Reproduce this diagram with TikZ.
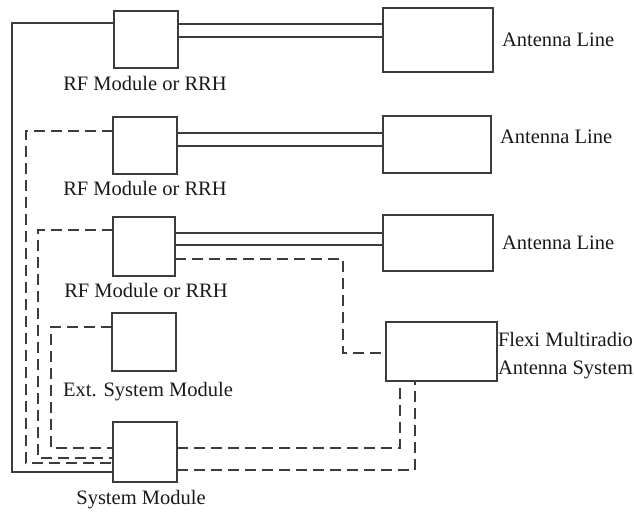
\documentclass[tikz,border=0pt]{standalone}
\usepackage{fontspec}
\setmainfont{Liberation Serif}
\begin{document}
\begin{tikzpicture}[x=1pt,y=-1pt,
  every node/.style={inner sep=0pt, outer sep=0pt},
  unit/.style={draw=linegray, line width=1.4pt, fill=white},
  lbl/.style={text=black!90, font=\fontsize{20.5}{28}\selectfont},
  wire/.style={draw=linegray, line width=1.4pt},
  dwire/.style={wire, dash pattern=on 11pt off 6pt}]
\definecolor{linegray}{RGB}{60,60,60}
\useasboundingbox (0,0) rectangle (634,514);

% boxes
\node[unit, minimum width=64pt, minimum height=57pt] (rf1) at (146,39.5) {};
\node[unit, minimum width=64pt, minimum height=57pt] (rf2) at (145,145.5) {};
\node[unit, minimum width=62pt, minimum height=59pt] (rf3) at (144,246.5) {};
\node[unit, minimum width=64pt, minimum height=58pt] (ext) at (144,342) {};
\node[unit, minimum width=64pt, minimum height=60pt] (sys) at (145,452) {};
\node[unit, minimum width=110pt, minimum height=64pt] (ant1) at (438,40) {};
\node[unit, minimum width=108pt, minimum height=57pt] (ant2) at (437,144.5) {};
\node[unit, minimum width=110pt, minimum height=56pt] (ant3) at (438,243) {};
\node[unit, minimum width=111pt, minimum height=59pt] (fmas) at (441.5,351.5) {};

% labels
\node[lbl] (l1) at (145,83) {RF Module or RRH};
\node[lbl] (l2) at (145,188) {RF Module or RRH};
\node[lbl] (l3) at (146,290) {RF Module or RRH};
\node[lbl] (l4) at (148,392) {Ext. System Module};
\node[lbl] (l5) at (141,500) {System Module};
\node[lbl, anchor=west] (a1) at (502,40) {Antenna Line};
\node[lbl, anchor=west] (a2) at (500,137) {Antenna Line};
\node[lbl, anchor=west] (a3) at (502,243) {Antenna Line};
\node[lbl, anchor=west, align=left] (fl) at (498,356) {Flexi Multiradio\\Antenna System};

% feeder pairs between RF units and antenna lines
\draw[wire] (rf1.east |- 0,24) -- (ant1.west |- 0,24);
\draw[wire] (rf1.east |- 0,37) -- (ant1.west |- 0,37);
\draw[wire] (rf2.east |- 0,133) -- (ant2.west |- 0,133);
\draw[wire] (rf2.east |- 0,146) -- (ant2.west |- 0,146);
\draw[wire] (rf3.east |- 0,233) -- (ant3.west |- 0,233);
\draw[wire] (rf3.east |- 0,245) -- (ant3.west |- 0,245);

% links to the system module
\draw[wire] (rf1.west |- 0,23) -- (12,23) -- (12,472) -- (sys.west |- 0,472);
\draw[dwire] (rf2.west |- 0,131) -- (26,131) -- (26,463) -- (sys.west |- 0,463);
\draw[dwire] (rf3.west |- 0,230) -- (38,230) -- (38,458) -- (sys.west |- 0,458);
\draw[dwire] (ext.west |- 0,327) -- (51,327) -- (51,448) -- (sys.west |- 0,448);

% links to the Flexi Multiradio antenna system
\draw[dwire] (rf3.east |- 0,259) -- (343,259) -- (343,353) -- (fmas.west |- 0,353);
\draw[dwire] (sys.east |- 0,448) -- (400,448) -- (fmas.south -| 400,0);
\draw[dwire] (sys.east |- 0,470) -- (415,470) -- (fmas.south -| 415,0);
\end{tikzpicture}
\end{document}
